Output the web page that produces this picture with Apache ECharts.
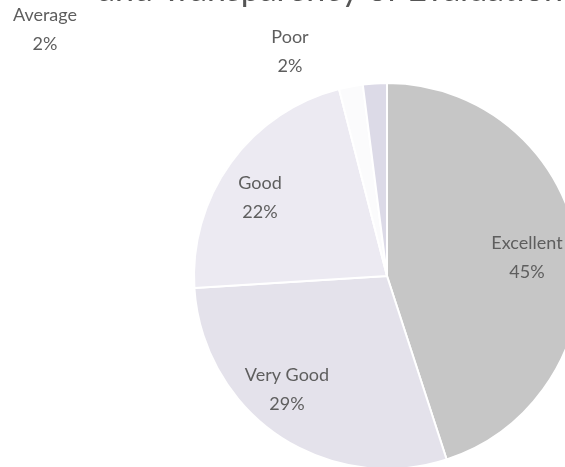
<!DOCTYPE html>
<html>
<head>
<meta charset="utf-8">
<script src="https://cdn.jsdelivr.net/npm/echarts@6/dist/echarts.min.js"></script>
<style>
html,body{margin:0;padding:0;background:#fff;}
#chart{width:565px;height:467px;}
</style>
</head>
<body>
<div id="chart"></div>
<script>
var titleText = 'and Transparency of Evaluation';
var categories = ['Excellent', 'Very Good', 'Good', 'Average', 'Poor'];
var values = [45, 29, 22, 2, 2];
var colors = ['#c6c6c6', '#e4e2eb', '#eceaf2', '#fbfbfc', '#dcdae7'];
var labelPos = [[527, 258], [287, 390], [260, 198], [45, 30], [290, 52]];

var chart = echarts.init(document.getElementById('chart'), null, {renderer: 'canvas'});
var data = categories.map(function (c, i) {
  return {name: c, value: values[i], itemStyle: {color: colors[i]}};
});
chart.setOption({
  backgroundColor: '#ffffff',
  animation: false,
  graphic: [{
    type: 'text',
    left: 98,
    top: -27,
    style: {
      text: titleText,
      font: '34px Lato',
      fill: '#555555'
    }
  }],
  series: [{
    type: 'pie',
    center: [387, 276],
    radius: [0, 193],
    startAngle: 90,
    clockwise: true,
    data: data,
    itemStyle: {borderColor: '#ffffff', borderWidth: 2},
    label: {
      show: true,
      position: 'inside',
      formatter: '{b}\n{d}%',
      fontFamily: 'Lato',
      fontSize: 18,
      lineHeight: 29,
      color: '#5e5e5e',
      align: 'center'
    },
    labelLine: {show: false},
    labelLayout: function (params) {
      var p = labelPos[params.dataIndex];
      return {x: p[0], y: p[1], align: 'center', verticalAlign: 'middle'};
    },
    emphasis: {disabled: true}
  }]
});
</script>
</body>
</html>
